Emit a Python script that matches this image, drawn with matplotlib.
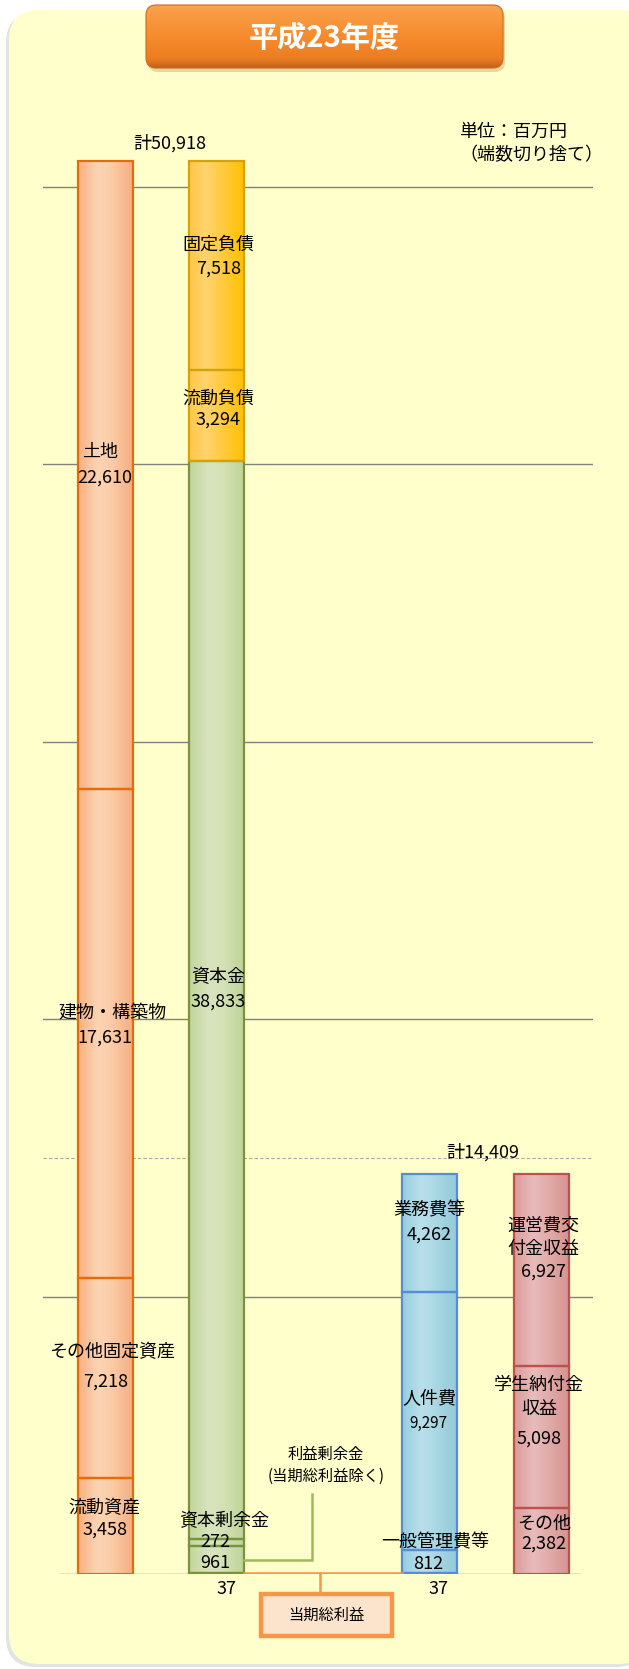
import numpy as np
import matplotlib.pyplot as plt
from matplotlib.colors import LinearSegmentedColormap
from matplotlib.patches import FancyBboxPatch, Rectangle

plt.rcParams['font.family'] = ['Noto Sans CJK JP', 'DejaVu Sans']

# values in 百万円, stacked bottom -> top
asset_names = ['流動資産', 'その他固定資産', '建物・構築物', '土地']
asset_vals = [3458, 7218, 17631, 22610]
liab_names = ['当期総利益', '利益剰余金', '資本剰余金', '資本金', '流動負債', '固定負債']
liab_vals = [37, 961, 272, 38833, 3294, 7518]
cost_names = ['当期総利益', '一般管理費等', '人件費', '業務費等']
cost_vals = [37, 812, 9297, 4262]
income_names = ['その他', '学生納付金収益', '運営費交付金収益']
income_vals = [2382, 5098, 6927]
total_bs = 50918
total_pl = 14409

# layout
XPOS = [0, 1, 2.92, 3.93]
W = 0.5
FS = 13

cmaps = {
    'orange': [(0, '#F6B184'), (0.35, '#FCD4B4'), (0.6, '#FBCCA8'), (1, '#F5AD7F')],
    'gold': [(0, '#FFC84A'), (0.3, '#FFD36E'), (1, '#FFC000')],
    'green': [(0, '#C3D69B'), (0.35, '#D8E4BE'), (0.6, '#D4E2B8'), (1, '#BFD396')],
    'blue': [(0, '#98CEDD'), (0.35, '#B9E0EA'), (1, '#92CADB')],
    'red': [(0, '#DA9C9A'), (0.35, '#E8BCBB'), (1, '#D69390')],
}
edges = {'orange': '#E46C0A', 'gold': '#D4A20A', 'green': '#77933C',
         'blue': '#558ED5', 'red': '#C0504D'}

fig = plt.figure(figsize=(6.29, 16.69), dpi=100)

# background panel + title (pixel coords)
bg = fig.add_axes([0, 0, 1, 1])
bg.add_patch(FancyBboxPatch((6, 13), 640, 1654, boxstyle='round,pad=0,rounding_size=30',
                            fc='#E3E3E3', ec='none', zorder=0))
bg.add_patch(FancyBboxPatch((9, 10), 640, 1654, boxstyle='round,pad=0,rounding_size=30',
                            fc='#FFFFCC', ec='none', zorder=0))
bg.add_patch(FancyBboxPatch((148, 9), 357, 63, boxstyle='round,pad=0,rounding_size=10',
                            fc='#C9A46A', ec='none', alpha=0.45, zorder=1))
tcm = LinearSegmentedColormap.from_list('t', [(0, '#FAA24E'), (0.5, '#F68B2C'),
                                              (0.85, '#EC7E22'), (1, '#C2621A')])
im = bg.imshow(np.linspace(0, 1, 100).reshape(-1, 1), cmap=tcm, extent=(146, 503, 68, 5),
               aspect='auto', interpolation='bicubic', zorder=2)
tbox = FancyBboxPatch((146, 5), 357, 63, boxstyle='round,pad=0,rounding_size=10',
                      fc='none', ec='#D06A1C', lw=0.8, zorder=3)
bg.add_patch(tbox)
im.set_clip_path(tbox)
bg.text(324.5, 38, '平成23年度', color='white', fontsize=21, fontweight='bold',
        ha='center', va='center', zorder=4)
bg.set_xlim(0, 629)
bg.set_ylim(1669, 0)
bg.axis('off')

# main chart
ax = fig.add_axes([43 / 629, 95 / 1669, 550 / 629, 1526 / 1669])
ax.patch.set_alpha(0)
for v in range(10000, 50001, 10000):
    ax.axhline(v, color='#808080', lw=1, zorder=0)
ax.axhline(0, xmin=0.031, xmax=0.976, color='#808080', lw=1, zorder=0)
ax.axhline(15000, color='#A6A6A6', lw=0.8, ls=(0, (3, 2)), zorder=0)


def stack(x, vals, fams):
    bottoms = np.concatenate([[0], np.cumsum(vals)[:-1]])
    for b, h, fam in zip(bottoms, vals, fams):
        if fam == 'strip':
            ax.bar(x, h, W, bottom=b, color=edges['orange'], edgecolor=edges['orange'],
                   lw=1.6, zorder=3)
            continue
        cm = LinearSegmentedColormap.from_list(fam, cmaps[fam])
        ax.imshow(np.linspace(0, 1, 64).reshape(1, -1), cmap=cm, aspect='auto',
                  extent=(x - W / 2, x + W / 2, b, b + h), origin='lower',
                  interpolation='bicubic', zorder=2)
        ax.bar(x, h, W, bottom=b, fill=False, edgecolor=edges[fam], lw=1.6, zorder=3)
    return bottoms


stack(XPOS[0], asset_vals, ['orange'] * 4)
lb = stack(XPOS[1], liab_vals, ['strip', 'green', 'green', 'green', 'gold', 'gold'])
cb = stack(XPOS[2], cost_vals, ['strip', 'blue', 'blue', 'blue'])
stack(XPOS[3], income_vals, ['red'] * 3)


def fmt(v):
    return f'{v:,}'


def txt(x, y, s, fs=FS):
    ax.text(x, y, s, ha='center', va='center', fontsize=fs, clip_on=False, zorder=5)


# assets
txt(-0.05, 40450, asset_names[3])
txt(0.0, 39510, fmt(asset_vals[3]))
txt(0.06, 20220, asset_names[2])
txt(0.0, 19330, fmt(asset_vals[2]))
txt(0.06, 8000, asset_names[1])
txt(0.0, 6920, fmt(asset_vals[1]))
txt(-0.01, 2380, asset_names[0])
txt(0.0, 1590, fmt(asset_vals[0]))

# liabilities / net assets
txt(1.02, 47910, liab_names[5])
txt(1.02, 47040, fmt(liab_vals[5]))
txt(1.02, 42360, liab_names[4])
txt(1.02, 41600, fmt(liab_vals[4]))
txt(1.02, 21520, liab_names[3])
txt(1.02, 20640, fmt(liab_vals[3]))
txt(1.07, 1910, liab_names[2])
txt(0.995, 1150, fmt(liab_vals[2]))
txt(0.99, 400, fmt(liab_vals[1]))
txt(1.09, -540, fmt(liab_vals[0]))
txt(1.99, 4290, '利益剰余金', 11)
txt(1.99, 3530, '(当期総利益除く)', 11)

# expenses
txt(2.92, 13120, cost_names[3])
txt(2.92, 12220, fmt(cost_vals[3]))
txt(2.92, 6310, cost_names[2])
txt(2.91, 5440, fmt(cost_vals[2]), 11)
txt(2.97, 1150, cost_names[1])
txt(2.91, 360, fmt(cost_vals[1]))
txt(3.0, -540, fmt(cost_vals[0]))

# income
txt(3.95, 12580, '運営費交')
txt(3.95, 11720, '付金収益')
txt(3.95, 10890, fmt(income_vals[2]))
txt(3.91, 6810, '学生納付金')
txt(3.91, 5950, '収益')
txt(3.91, 4870, fmt(income_vals[1]))
txt(3.95, 1800, income_names[0])
txt(3.95, 1080, fmt(income_vals[0]))

# totals and unit
txt(0.58, 51550, f'計{fmt(total_bs)}')
txt(3.40, 15210, f'計{fmt(total_pl)}')
ax.text(3.19, 51980, '単位：百万円', ha='left', va='center', fontsize=FS)
ax.text(3.19, 51150, '（端数切り捨て）', ha='left', va='center', fontsize=FS)

# connectors
mid961 = lb[1] + liab_vals[1] / 2
ax.plot([XPOS[1] + W / 2, 1.865, 1.865], [mid961, mid961, 2880], color='#9BBB59',
        lw=1.8, zorder=4, solid_joinstyle='miter')
ax.plot([XPOS[1] + W / 2, XPOS[2] - W / 2], [liab_vals[0], liab_vals[0]],
        color='#F79646', lw=1.8, zorder=4)
ax.plot([1.935, 1.935], [liab_vals[0], -720], color='#F79646', lw=1.8, zorder=4,
        clip_on=False)
ax.add_patch(Rectangle((1.40, -2240), 1.18, 1520, fc='#FCE4CC', ec='#F79646', lw=3.2,
                       clip_on=False, zorder=4))
txt(1.99, -1480, '当期総利益', 11)

ax.set_xlim(-0.561, 4.394)
ax.set_ylim(0, 55000)
ax.axis('off')

fig.savefig('out.png', dpi=100)
